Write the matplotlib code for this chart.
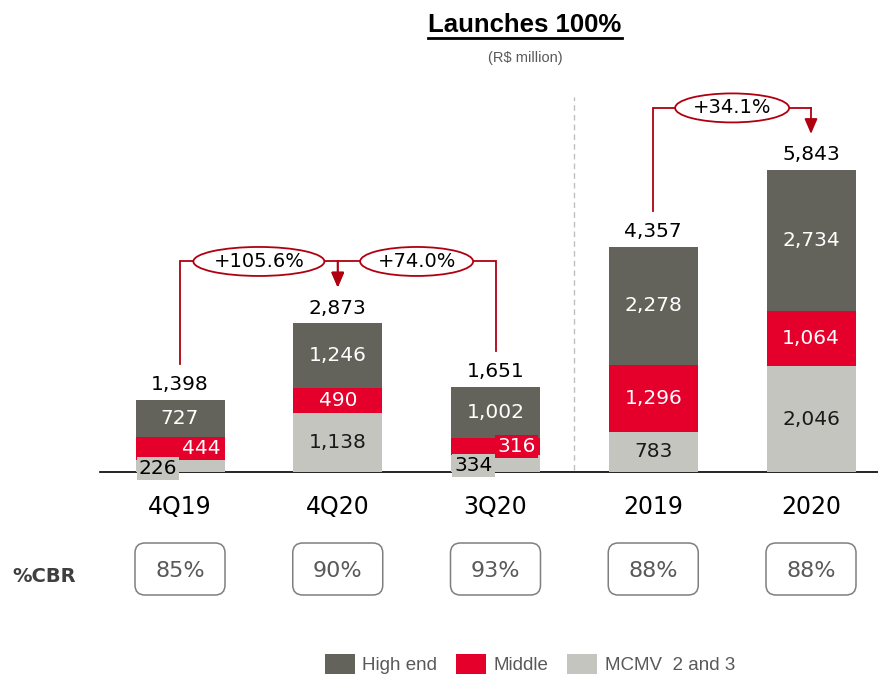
import matplotlib
matplotlib.use("Agg")
from matplotlib import pyplot as plt
from matplotlib.patches import Ellipse, FancyBboxPatch
from matplotlib.lines import Line2D

# data
periods = ["4Q19", "4Q20", "3Q20", "2019", "2020"]
high_end = [727, 1246, 1002, 2278, 2734]
middle = [444, 490, 316, 1296, 1064]
mcmv = [226, 1138, 334, 783, 2046]
totals = [1398, 2873, 1651, 4357, 5843]
cbr = ["85%", "90%", "93%", "88%", "88%"]
growth = [(0, 1, "+105.6%"), (2, 1, "+74.0%"), (3, 4, "+34.1%")]
legend_labels = ["High end", "Middle", "MCMV  2 and 3"]

C_HIGH = "#64635b"
C_MID = "#e4002b"
C_MCMV = "#c5c5c0"
C_RED = "#b00010"
C_TXT = "#595959"

plt.rcParams['font.family'] = ['DejaVu Sans']

fig = plt.figure(figsize=(8.79, 6.75), dpi=100)
ax = fig.add_axes([0, 0, 1, 1])
ax.axis("off")

# pixel -> data scale (bars 157.75 px apart, 0.0517 px per R$ million)
PXX = 1 / 157.75
PXY = 1 / 0.0517
ax.set_xlim(-180 * PXX, 699 * PXX)
ax.set_ylim(-203 * PXY, 472 * PXY)

x = list(range(len(periods)))
w = 89 * PXX
b_mcmv = ax.bar(x, mcmv, width=w, color=C_MCMV, zorder=2)
bot2 = mcmv
b_mid = ax.bar(x, middle, width=w, bottom=bot2, color=C_MID, zorder=2)
bot3 = [a + b for a, b in zip(mcmv, middle)]
b_high = ax.bar(x, high_end, width=w, bottom=bot3, color=C_HIGH, zorder=2)

ax.axhline(0, xmin=100 / 879, xmax=1, color="black", lw=1.2, zorder=1)

small = [True, False, True, False, False]
fs = 14.5
for i in x:
    ax.text(i, bot3[i] + high_end[i] / 2, f"{high_end[i]:,}", ha="center", va="center",
            color="white", fontsize=fs, zorder=4)
    if small[i]:
        ax.text(i + 21 * PXX, mcmv[i] + middle[i] / 2, f"{middle[i]:,}", ha="center",
                va="center", color="white", fontsize=fs, zorder=4,
                bbox=dict(boxstyle="square,pad=0.1", fc=C_MID, ec="none"))
        ax.text(i - 22 * PXX, mcmv[i] / 2 - 2 * PXY, f"{mcmv[i]:,}", ha="center",
                va="center", color="black", fontsize=fs, zorder=4,
                bbox=dict(boxstyle="square,pad=0.1", fc=C_MCMV, ec="none"))
    else:
        ax.text(i, mcmv[i] + middle[i] / 2, f"{middle[i]:,}", ha="center", va="center",
                color="white", fontsize=fs, zorder=4)
        ax.text(i, mcmv[i] / 2, f"{mcmv[i]:,}", ha="center", va="center",
                color="#1a1a1a", fontsize=fs, zorder=4)
    ax.text(i, totals[i] + 15 * PXY, f"{totals[i]:,}", ha="center", va="center",
            color="black", fontsize=fs, zorder=4)
    ax.text(i, -35 * PXY, periods[i], ha="center", va="center", color="black",
            fontsize=17)

# separator between quarters and years
ax.plot([2.5, 2.5], [2 * PXY, 375 * PXY], color="#bfbfbf", lw=1,
        linestyle=(0, (4, 3)), zorder=1)

# growth brackets
ell_w = {"+105.6%": 131, "+74.0%": 113, "+34.1%": 114}
for src, dst, txt in growth:
    level = max(totals[src], totals[dst]) + 62 * PXY
    start = totals[src] + 36 * PXY
    ax.plot([src, src, dst], [start, level, level], color=C_RED, lw=1.3, zorder=3,
            solid_joinstyle="miter")
    ax.annotate("", xy=(dst, totals[dst] + 36 * PXY), xytext=(dst, level),
                arrowprops=dict(arrowstyle="-|>,head_length=0.65,head_width=0.28",
                                color=C_RED, lw=1.3, mutation_scale=14,
                                shrinkA=0, shrinkB=0), zorder=3)
    mid = (src + dst) / 2
    ax.add_patch(Ellipse((mid, level), ell_w[txt] * PXX, 29 * PXY, fc="white",
                         ec=C_RED, lw=1.3, zorder=5))
    ax.text(mid, level, txt, ha="center", va="center", fontsize=14, zorder=6)

# %CBR boxes
for i in x:
    cx, _ = ax.transData.transform((i, 0))
    box = FancyBboxPatch(((cx - 45) / 100, (675 - 595) / 100), 0.90, 0.52,
                         boxstyle="round,pad=0,rounding_size=0.1",
                         transform=fig.dpi_scale_trans, fc="white", ec="#7f7f7f",
                         lw=1.1)
    fig.add_artist(box)
    fig.text(cx / 879, 1 - 571 / 675, cbr[i], ha="center", va="center",
             fontsize=16, color=C_TXT)
fig.text(12 / 879, 1 - 576 / 675, "%CBR", ha="left", va="center", fontsize=14,
         fontweight="bold", color="#3f3f3f")

# title
title = fig.text(525 / 879, 1 - 25 / 675, "Launches 100%", ha="center", va="center",
                 fontsize=18.5, fontweight="bold", family="Liberation Sans")
fig.text(525 / 879, 1 - 58 / 675, "(R$ million)", ha="center", va="center",
         fontsize=10.5, color=C_TXT, family="Liberation Sans")
fig.canvas.draw()
bb = title.get_window_extent()
fig.add_artist(Line2D([bb.x0 / 879, bb.x1 / 879], [1 - 38 / 675, 1 - 38 / 675],
                      transform=fig.transFigure, color="black", lw=2))

fig.legend([b_high, b_mid, b_mcmv], legend_labels, ncol=3, loc="lower center",
           bbox_to_anchor=(530 / 879, 0.0), frameon=False,
           labelcolor=C_TXT, handlelength=1.6, handleheight=1.25, handletextpad=0.4,
           columnspacing=1.0, borderpad=0.05, borderaxespad=0,
           prop={"family": "Liberation Sans", "size": 13.5})

fig.savefig("out.png", dpi=100)
